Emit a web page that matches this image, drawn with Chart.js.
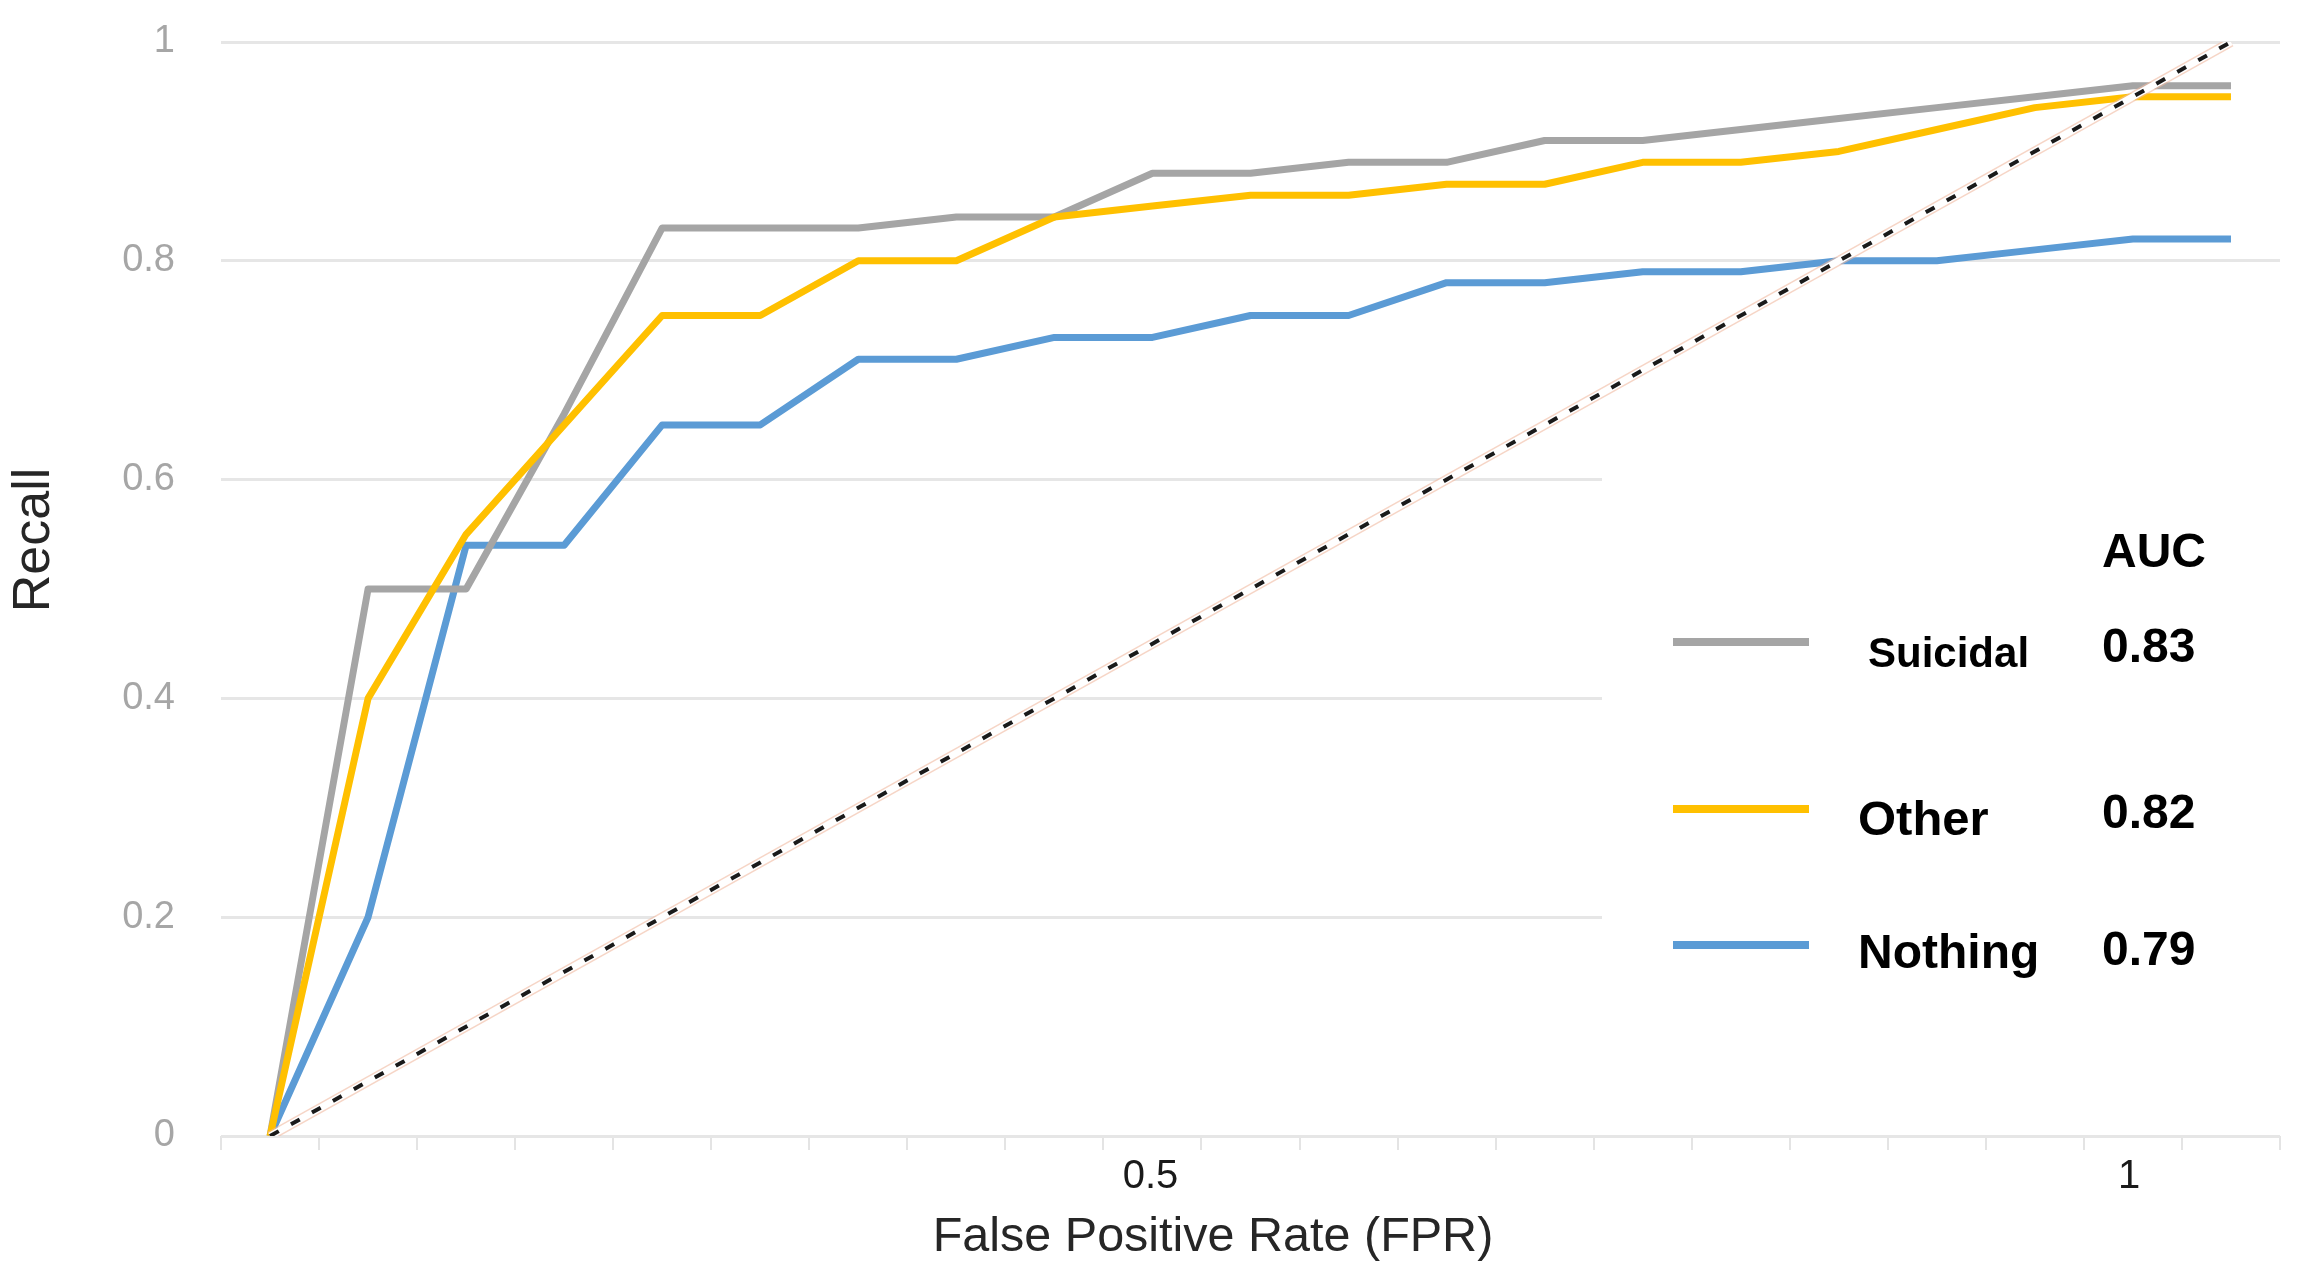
<!DOCTYPE html>
<html>
<head>
<meta charset="utf-8">
<title>ROC curves</title>
<script src="https://cdn.jsdelivr.net/npm/chart.js@4.4.1/dist/chart.umd.min.js"></script>
<style>
  html, body { margin: 0; padding: 0; background: #fff; }
  #wrap { width: 2321px; height: 1267px; position: relative; }
</style>
</head>
<body>
<div id="wrap"><canvas id="roc"></canvas></div>
<script>
/* ─── Data ─────────────────────────────────────── */
const fpr      = [0.00, 0.05, 0.10, 0.15, 0.20, 0.25, 0.30, 0.35, 0.40, 0.45, 0.50,
                  0.55, 0.60, 0.65, 0.70, 0.75, 0.80, 0.85, 0.90, 0.95, 1.00];
const suicidal = [0, 0.50, 0.50, 0.66, 0.83, 0.83, 0.83, 0.84, 0.84, 0.88, 0.88,
                  0.89, 0.89, 0.91, 0.91, 0.92, 0.93, 0.94, 0.95, 0.96, 0.96];
const other    = [0, 0.40, 0.55, 0.65, 0.75, 0.75, 0.80, 0.80, 0.84, 0.85, 0.86,
                  0.86, 0.87, 0.87, 0.89, 0.89, 0.90, 0.92, 0.94, 0.95, 0.95];
const nothing  = [0, 0.20, 0.54, 0.54, 0.65, 0.65, 0.71, 0.71, 0.73, 0.73, 0.75,
                  0.75, 0.78, 0.78, 0.79, 0.79, 0.80, 0.80, 0.81, 0.82, 0.82];

const seriesNames = ['Suicidal', 'Other', 'Nothing'];
const aucValues   = [0.83, 0.82, 0.79];

const chanceX = [0, 1];
const chanceY = [0, 1];

// text boxes under the axis sit a little left of the true positions
const xLabelPos  = [0.449, 0.948];
const xLabelText = ['0.5', '1'];

/* ─── Styles ───────────────────────────────────── */
const COLORS = { Suicidal: '#a5a5a5', Other: '#ffc000', Nothing: '#5b9bd5' };
const FONT = '"Liberation Sans", Arial, sans-serif';
const HALF_STEP = 0.025;

const pts = (xs, ys) => xs.map((x, i) => ({ x, y: ys[i] }));

/* ─── Legend box + titles (drawn on the canvas) ── */
const aucLegend = {
  id: 'aucLegend',
  beforeDatasetsDraw(chart) {
    const ctx = chart.ctx;
    ctx.save();
    ctx.fillStyle = '#fff';
    ctx.fillRect(1602, 420, 719, 640);
    ctx.restore();
  },
  afterDraw(chart) {
    const ctx = chart.ctx;
    const lineY = [642, 809, 945];
    const nameX = [1868, 1858, 1858];
    const nameY = [655, 821, 955];
    const aucY  = [649, 815, 952];
    const nameSize = [42, 49, 48];
    ctx.save();
    ctx.fillStyle = '#000';
    ctx.textBaseline = 'middle';
    ctx.textAlign = 'left';
    ctx.font = `bold 48px ${FONT}`;
    ctx.fillText('AUC', 2102, 554);
    seriesNames.forEach((name, i) => {
      ctx.strokeStyle = COLORS[name];
      ctx.lineWidth = 8;
      ctx.lineCap = 'butt';
      ctx.beginPath();
      ctx.moveTo(1673, lineY[i]);
      ctx.lineTo(1809, lineY[i]);
      ctx.stroke();
      ctx.font = `bold ${nameSize[i]}px ${FONT}`;
      ctx.fillText(name, nameX[i], nameY[i]);
      ctx.font = `bold 48px ${FONT}`;
      ctx.fillText(aucValues[i].toFixed(2), 2102, aucY[i]);
    });

    // axis titles
    ctx.fillStyle = '#262626';
    ctx.textAlign = 'center';
    ctx.font = `48.5px ${FONT}`;
    ctx.fillText('False Positive Rate (FPR)', 1213, 1238);
    ctx.translate(35, 540);
    ctx.rotate(-Math.PI / 2);
    ctx.font = `52px ${FONT}`;
    ctx.fillText('Recall', 0, 0);
    ctx.restore();
  }
};

/* ─── Chart ────────────────────────────────────── */
const lineSet = (name, ys, order) => ({
  label: name,
  data: pts(fpr, ys),
  borderColor: COLORS[name],
  borderWidth: 7,
  borderJoinStyle: 'round',
  pointRadius: 0,
  tension: 0,
  order
});

new Chart(document.getElementById('roc'), {
  type: 'line',
  data: {
    datasets: [
      { data: pts(chanceX, chanceY), borderColor: '#1a1a1a', borderWidth: 4,
        borderDash: [10, 14], pointRadius: 0, order: 0 },
      { data: pts(chanceX, chanceY), borderColor: '#fff', borderWidth: 7,
        pointRadius: 0, order: 1 },
      { data: pts(chanceX, chanceY), borderColor: 'rgba(240,185,160,0.6)', borderWidth: 10,
        pointRadius: 0, order: 2 },
      lineSet('Other', other, 3),
      lineSet('Suicidal', suicidal, 4),
      lineSet('Nothing', nothing, 5)
    ]
  },
  options: {
    responsive: true,
    maintainAspectRatio: false,
    devicePixelRatio: 1,
    animation: false,
    layout: { padding: { left: 0, top: 42, right: 41, bottom: 0 } },
    plugins: { legend: { display: false }, tooltip: { enabled: false } },
    scales: {
      x: {
        type: 'linear',
        min: fpr[0] - HALF_STEP,
        max: fpr[fpr.length - 1] + HALF_STEP,
        afterBuildTicks: (scale) => {
          const marks = fpr.map(v => ({ value: v - HALF_STEP }));
          marks.push({ value: fpr[fpr.length - 1] + HALF_STEP });
          xLabelPos.forEach(v => marks.push({ value: v }));
          scale.ticks = marks;
        },
        afterFit: (scale) => { scale.height = 131; },
        ticks: {
          autoSkip: false,
          maxRotation: 0,
          padding: 3,
          color: '#1a1a1a',
          font: { family: FONT, size: 40 },
          callback: (value) => {
            const i = xLabelPos.indexOf(value);
            return i >= 0 ? xLabelText[i] : '';
          }
        },
        grid: {
          drawOnChartArea: false,
          drawTicks: true,
          tickLength: 14,
          lineWidth: 2,
          tickColor: (ctx) => (ctx.tick && xLabelPos.includes(ctx.tick.value)) ? 'rgba(0,0,0,0)' : '#e4e4e4'
        },
        border: { display: false }
      },
      y: {
        min: 0,
        max: 1,
        afterFit: (scale) => {
          scale.width = 221;
          // tick padding would otherwise push the plot top down
          scale.paddingTop = 0;
          scale.paddingBottom = 0;
        },
        ticks: {
          stepSize: 0.2,
          padding: 46,
          color: '#a6a6a6',
          font: { family: FONT, size: 38 },
          callback: (v) => String(Math.round(v * 10) / 10)
        },
        grid: { color: '#e6e6e6', lineWidth: 3, drawTicks: false },
        border: { display: false }
      }
    }
  },
  plugins: [aucLegend]
});
</script>
</body>
</html>
